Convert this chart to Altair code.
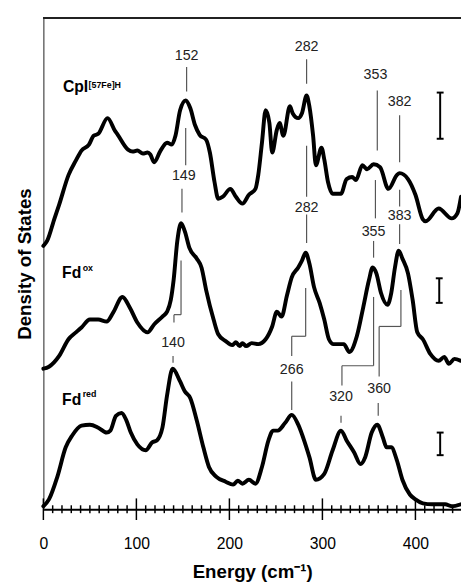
import altair as alt
import pandas as pd

# ---------------- spectra (energy in cm-1, stacked density of states, arbitrary units) ----------------
cpi_E = [0,4,12,17,27,35,41,49,54,59,69,77,80,91,96,101,107,112,115,119,126,133,138,142,147,153,158,163,168,175,
         179,184,188,193,201,207,214,221,228,231,235,239,243,246,251,254,258,265,268,274,278,283,286,290,293,299,302,306,311,320,
         326,332,336,343,348,355,362,371,380,383,392,400,408,411,425,439,445,449]
cpi_D = [53.6,54.6,59.2,62.0,68.0,71.0,73.0,74.2,76.0,76.4,79.6,77.0,76.2,73.2,72.8,73.0,72.4,72.6,72.2,70.6,
         73.0,74.6,74.2,76.0,81.2,83.2,81.6,78.2,76.2,75.2,72.6,66.6,63.2,63.6,65.2,63.6,62.2,64.0,65.2,68.0,
         74.6,81.2,78.6,72.6,77.2,78.6,76.0,82.0,80.6,79.6,80.6,84.2,82.0,76.0,70.0,73.6,71.2,66.6,64.2,64.2,
         67.2,67.6,67.0,70.0,69.2,70.2,69.6,65.2,68.0,68.4,67.2,64.0,59.0,58.6,61.2,59.2,60.2,63.6]

fdox_E = [0,6,17,27,35,41,50,59,68,75,85,93,101,112,119,128,133,137,140,144,148,152,157,165,170,175,183,188,196,203,
          207,211,214,218,224,231,239,246,251,256,262,267,274,278,282,286,291,297,302,307,312,323,329,337,344,350,354,358,363,370,
          374,378,382,386,392,397,402,408,416,425,431,436,442,449]
fdox_D = [28.6,29.0,31.2,34.6,36.0,37.0,38.6,38.6,38.2,40.0,43.2,41.0,38.0,36.0,37.6,39.2,40.2,42.6,46.6,54.6,
          58.2,56.6,53.2,51.0,49.2,44.6,38.6,35.6,34.2,33.4,34.0,33.2,33.8,33.2,33.8,33.6,34.6,37.2,40.2,39.2,
          43.6,47.2,49.2,50.6,52.2,50.0,45.2,42.0,38.6,34.6,33.6,33.6,32.0,35.2,41.2,46.6,49.2,48.0,44.0,41.6,
          44.0,49.2,52.6,51.0,48.0,42.6,36.0,34.6,31.6,30.2,31.0,29.6,30.6,30.2]

fdred_E = [0,6,15,24,31,41,50,59,68,72,78,84,89,94,101,110,117,122,128,133,139,147,152,158,165,172,178,186,196,204,
           209,214,221,228,235,242,247,252,260,267,274,281,286,293,302,311,320,326,334,341,346,353,359,365,369,374,380,386,394,400,
           408,418,432,439,449]
fdred_D = [0.6,2.0,6.6,12.6,15.0,17.0,17.2,16.6,15.6,16.0,19.0,19.6,18.2,15.6,13.2,12.0,13.6,14.0,16.6,23.2,
           28.6,26.0,24.0,22.6,18.0,12.6,8.6,6.6,5.6,5.0,5.8,5.2,6.0,5.2,8.6,14.0,16.0,16.0,17.6,19.2,
           17.2,13.6,10.6,6.0,7.2,12.0,16.0,14.0,11.6,9.2,10.6,15.6,17.2,14.6,12.6,12.6,10.0,6.0,3.0,2.0,
           1.2,1.0,1.0,0.6,1.0]

# ---------------- annotations ----------------
peak_text = ["152", "282", "353", "382", "149", "282", "355", "383", "140", "266", "320", "360"]
peak_E    = [154, 283, 357, 383, 151, 283, 355, 383, 139.4, 267, 320, 361]
peak_D    = [92.2, 94.0, 88.4, 82.8, 67.8, 61.2, 56.4, 59.6, 33.8, 28.4, 22.8, 24.4]

lead_E1 = [154, 283, 359, 383, 153, 149, 283, 283, 357, 355, 383, 383,
           148, 140.4, 140.4, 139.4, 282, 267, 267, 267, 355, 321, 321, 320, 384.4, 361, 361, 360]
lead_D1 = [90, 91.6, 85.2, 80.2, 77.6, 65.2, 74, 60, 67, 54.6, 65, 58,
           50.6, 39.6, 39.6, 31.2, 45, 35.2, 35.2, 26, 43.2, 29.2, 29.2, 19, 44.6, 37.2, 37.2, 21.6]
lead_E2 = [154, 283, 359, 383, 153, 149, 283, 283, 357, 355, 383, 383,
           148, 148, 140.4, 139.4, 282, 282, 267, 267, 355, 355, 321, 320, 384.4, 384.4, 361, 360]
lead_D2 = [85, 86.6, 73, 70.6, 70, 60.4, 63.6, 54.2, 59.2, 51.2, 61.6, 54,
           39.6, 39.6, 38, 29.8, 35.2, 35.2, 31.2, 20.2, 29.2, 29.2, 25.2, 17.6, 37.2, 37.2, 27, 19]

bar_E  = [426.6, 425.6, 426.6]
bar_D1 = [84.8, 47.0, 15.6]
bar_D2 = [75.4, 42.0, 11.0]

name_text = ["CpI", "Fd", "Fd"]
name_E    = [21, 20.1, 20.1]
name_D    = [85, 47, 21.2]
sup_text  = ["[57Fe]H", "ox", "red"]
sup_E     = [48.6, 42.2, 42.2]
sup_D     = [85.8, 48.4, 22.8]

tick_E = list(range(0, 441, 10))
label_values = [0, 100, 200, 300, 400]

FONT = "Liberation Sans"

# ---------------- tables ----------------
curves = pd.concat([
    pd.DataFrame({"E": cpi_E, "D": cpi_D, "s": "CpI"}),
    pd.DataFrame({"E": fdox_E, "D": fdox_D, "s": "Fdox"}),
    pd.DataFrame({"E": fdred_E, "D": fdred_D, "s": "Fdred"}),
])
peaks = pd.DataFrame({"t": peak_text, "E": peak_E, "D": peak_D})
leads = pd.DataFrame({"E": lead_E1, "D": lead_D1, "E2": lead_E2, "D2": lead_D2})
bars = pd.DataFrame({"E": bar_E, "D": bar_D1, "D2": bar_D2})
names = pd.DataFrame({"t": name_text, "E": name_E, "D": name_D})
sups = pd.DataFrame({"t": sup_text, "E": sup_E, "D": sup_D})
ticks = pd.DataFrame({"E": tick_E})

xs = alt.Scale(domain=[0, 449], nice=False, zero=False)
ys = alt.Scale(domain=[0, 100], nice=False, zero=False)
xaxis = alt.Axis(values=label_values, ticks=False, grid=False, domainColor="black", domainWidth=2,
                 labelFontSize=16, labelFont=FONT, labelColor="black", labelPadding=27, labelFlush=False,
                 title="Energy (cm⁻¹)", titleFont=FONT, titleFontSize=19, titleFontWeight="bold",
                 titleColor="black", titlePadding=11)
yaxis = alt.Axis(ticks=False, labels=False, grid=False, domainColor="#444", domainWidth=1.2,
                 title="Density of States", titleFont=FONT, titleFontSize=19, titleFontWeight="bold",
                 titleColor="black", titlePadding=9)


def X(f):
    return alt.X(f, type="quantitative", scale=xs, axis=xaxis)


def Y(f):
    return alt.Y(f, type="quantitative", scale=ys, axis=yaxis)


line_layer = alt.Chart(curves).mark_line(
    interpolate="monotone", color="black", strokeWidth=4, strokeCap="round", strokeJoin="round"
).encode(x=X("E"), y=Y("D"), detail="s:N")

lead_layer = alt.Chart(leads).mark_rule(color="#555", strokeWidth=1.2).encode(
    x=X("E"), y=Y("D"), x2="E2", y2="D2")

peak_layer = alt.Chart(peaks).mark_text(
    font=FONT, fontSize=14.5, color="#222", align="center", baseline="middle"
).encode(x=X("E"), y=Y("D"), text="t:N")

bar_layer = alt.Chart(bars).mark_rule(color="black", strokeWidth=2).encode(x=X("E"), y=Y("D"), y2="D2")
cap_top = alt.Chart(bars).transform_calculate(a="datum.E - 3.7", b="datum.E + 3.7").mark_rule(
    color="black", strokeWidth=2).encode(x=X("a"), x2="b", y=Y("D"))
cap_bot = alt.Chart(bars).transform_calculate(a="datum.E - 3.7", b="datum.E + 3.7").mark_rule(
    color="black", strokeWidth=2).encode(x=X("a"), x2="b", y=Y("D2"))

name_layer = alt.Chart(names).mark_text(
    font=FONT, fontSize=16, fontWeight="bold", color="black", align="left", baseline="alphabetic"
).encode(x=X("E"), y=Y("D"), text="t:N")
sup_layer = alt.Chart(sups).mark_text(
    font=FONT, fontSize=9, fontWeight="bold", color="black", align="left", baseline="alphabetic"
).encode(x=X("E"), y=Y("D"), text="t:N")

tick_layer = alt.Chart(ticks).transform_calculate(
    lo="datum.E % 100 == 0 ? -2.2 : -0.8", hi="datum.E % 100 == 0 ? 2.2 : 0.8"
).mark_rule(color="black", strokeWidth=1.5).encode(x=X("E"), y=Y("lo"), y2="hi")

frame_top = alt.Chart(ticks).mark_rule(color="#222", strokeWidth=1.5).encode(
    x=alt.datum(0, scale=xs, axis=xaxis), x2=alt.datum(449), y=alt.datum(100, scale=ys, axis=yaxis))

chart = alt.layer(
    frame_top, tick_layer, lead_layer, bar_layer, cap_top, cap_bot, line_layer, peak_layer, name_layer, sup_layer
).properties(
    width=425, height=500,
    padding={"left": 36, "top": 5, "right": 0, "bottom": 69},
    autosize=alt.AutoSizeParams(type="none"),
).configure_view(stroke=None)

chart.save("out.html", embed_options={"renderer": "svg", "actions": False})
